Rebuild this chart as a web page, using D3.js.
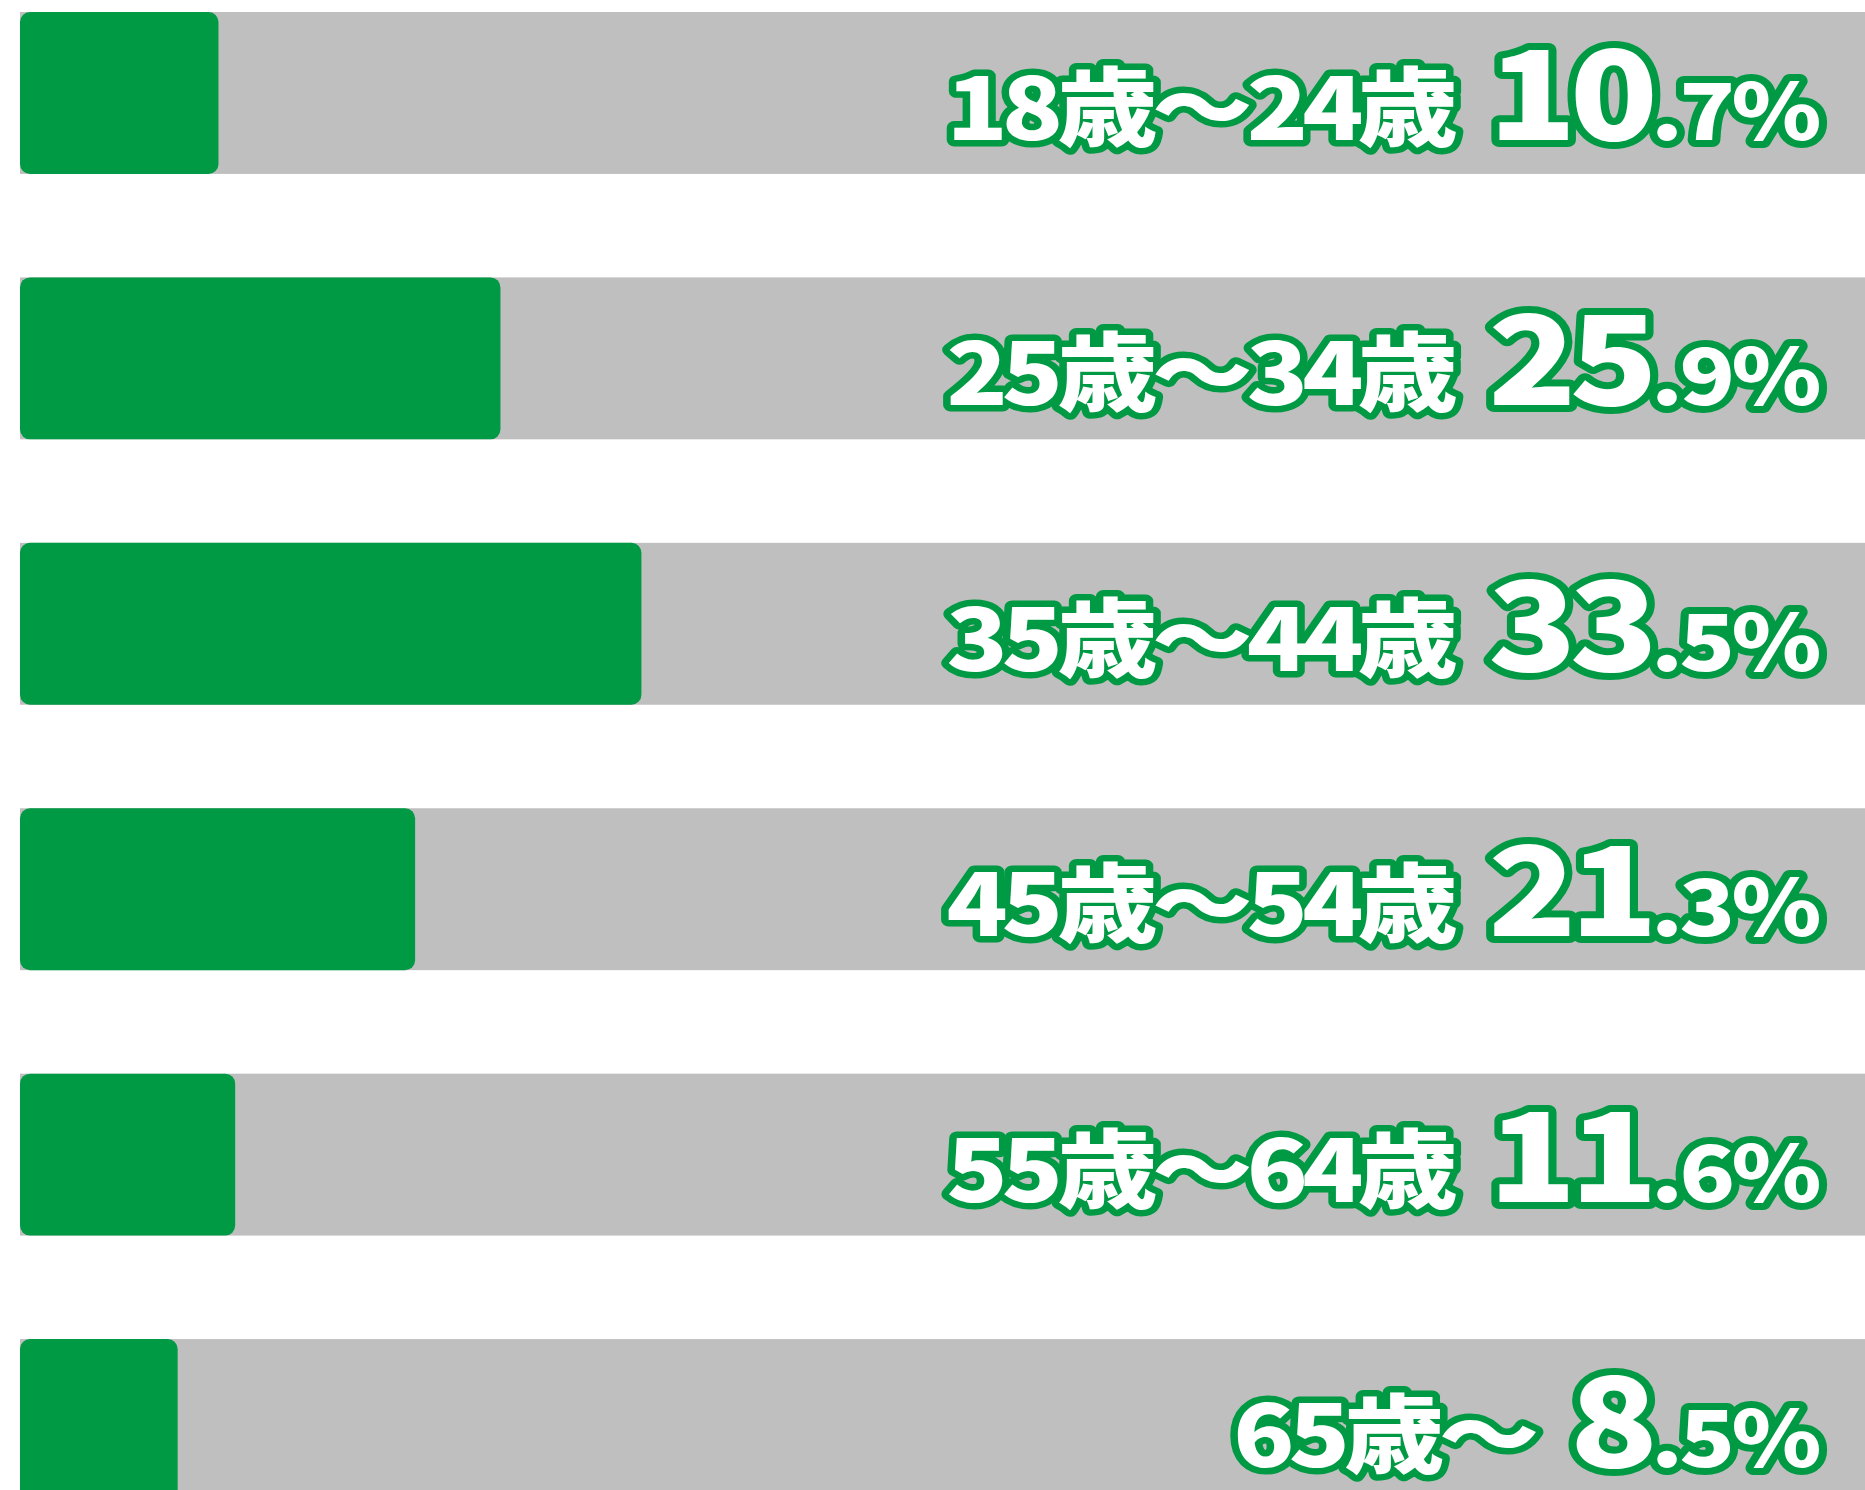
<!DOCTYPE html>
<html>
<head>
<meta charset="utf-8">
<script src="https://cdn.jsdelivr.net/npm/d3@7"></script>
<style>
  body { margin: 0; background: #fff; }
  .lbl { font-family: "Noto Sans CJK JP", sans-serif; font-weight: 900; fill: #fff;
         stroke: #009a44; stroke-linejoin: round; paint-order: stroke; }
</style>
</head>
<body>
<div id="chart"></div>
<script>
const ageGroups = ['18歳〜24歳', '25歳〜34歳', '35歳〜44歳', '45歳〜54歳', '55歳〜64歳', '65歳〜'];
const shares = [10.7, 25.9, 33.5, 21.3, 11.6, 8.5];

const width = 1865, height = 1490;
const green = '#009a44', grey = '#bfbfbf';

const svg = d3.select('#chart').append('svg')
    .attr('width', width)
    .attr('height', height);

const x = d3.scaleLinear().domain([0, 100]).range([20, 1875]);
const y = d3.scaleBand().domain(ageGroups).range([12, 1501]).paddingInner(0.39).paddingOuter(0);

const data = ageGroups.map((g, i) => ({ group: g, value: shares[i] }));

const rows = svg.selectAll('.row')
    .data(data)
    .enter().append('g')
    .attr('class', 'row')
    .attr('transform', d => `translate(0,${y(d.group)})`);

// background track
rows.append('rect')
    .attr('x', x(0))
    .attr('width', x(100) - x(0))
    .attr('height', y.bandwidth())
    .attr('fill', grey);

// value bar
rows.append('rect')
    .attr('x', x(0))
    .attr('width', d => x(d.value) - x(0))
    .attr('height', y.bandwidth())
    .attr('rx', 10)
    .attr('fill', green);

const rightEdge = 1818;
const baseline = 128;
const stretch = 1.17; // the original lettering is a wide face

rows.each(function(d) {
    const g = d3.select(this);
    const parts = d.value.toFixed(1).split('.');

    const valG = g.append('g')
        .attr('transform', `translate(${rightEdge},${baseline}) scale(${stretch},1)`);
    const val = valG.append('text')
        .attr('class', 'lbl')
        .attr('text-anchor', 'end')
        .style('stroke-width', 14);
    val.append('tspan').attr('font-size', 124).attr('letter-spacing', -6).text(parts[0]);
    val.append('tspan').attr('font-size', 78).attr('letter-spacing', -3).text('.' + parts[1] + '%');

    const w = val.node().getComputedTextLength() * stretch;
    g.append('g')
        .attr('transform', `translate(${rightEdge - w - 36},${baseline}) scale(${stretch},1)`)
      .append('text')
        .attr('class', 'lbl')
        .attr('text-anchor', 'end')
        .attr('font-size', 86)
        .attr('letter-spacing', -5)
        .style('stroke-width', 13)
        .text(d.group);
});
</script>
</body>
</html>
